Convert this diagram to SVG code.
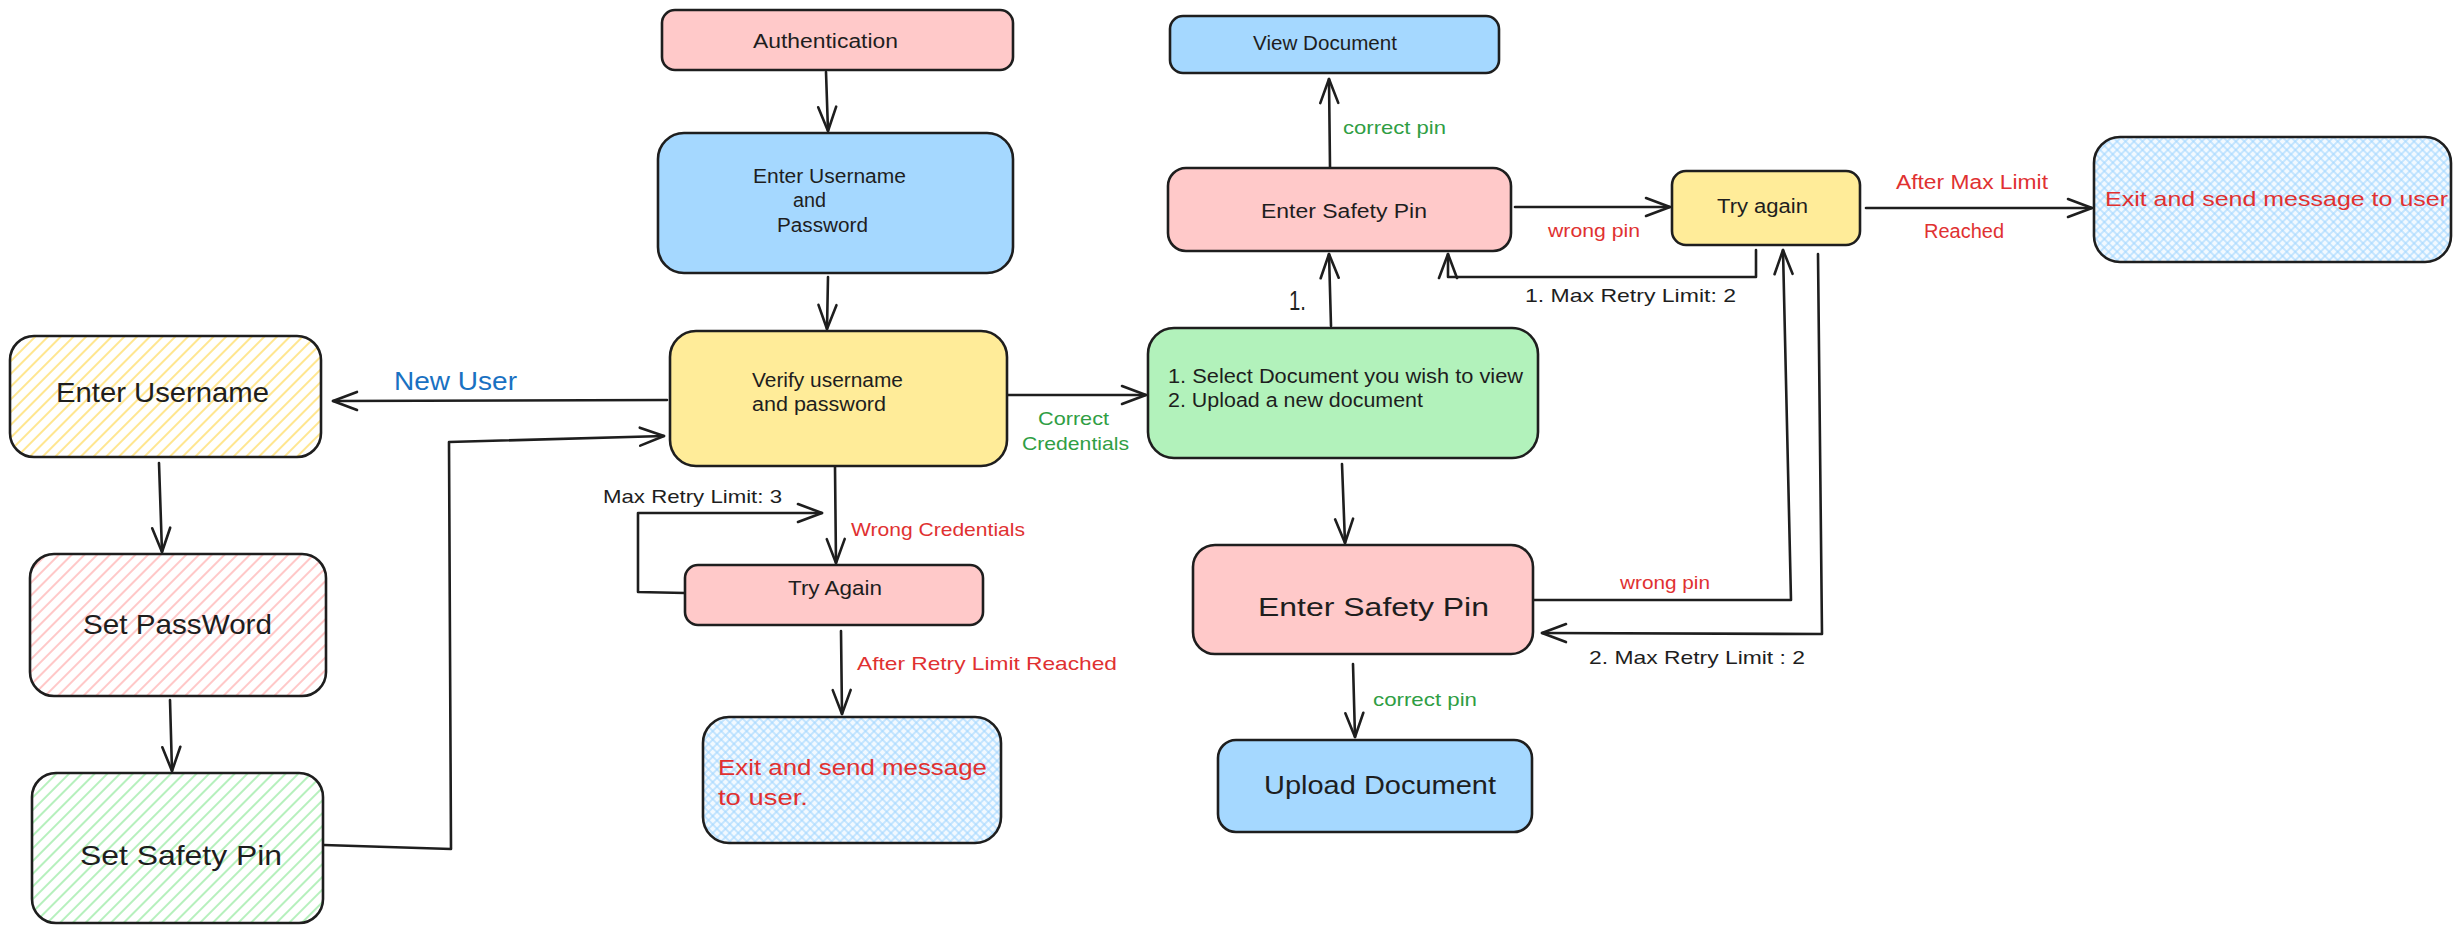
<svg xmlns="http://www.w3.org/2000/svg" width="2463" height="933" viewBox="0 0 2463 933">
  <style>
    .box { stroke: #1e1e1e; stroke-width: 2.6; }
    .pink { fill: #ffc9c9; }
    .blue { fill: #a5d8ff; }
    .yellow { fill: #ffec99; }
    .green { fill: #b2f2bb; }
    .hy { fill: url(#hatchYellow); }
    .hp { fill: url(#hatchPink); }
    .hg { fill: url(#hatchGreen); }
    .xb { fill: url(#crossBlue); }
    .t { font-family: "Liberation Sans", Arial, sans-serif; fill: #1e1e1e; }
    .red { fill: #e03131; }
    .grn { fill: #2f9e44; }
    .nu { fill: #1971c2; }
    .con { fill: none; stroke: #1e1e1e; stroke-width: 2.6; stroke-linecap: round; stroke-linejoin: round; }
    .arr { marker-end: url(#head); }
  </style>
  <defs>
    <marker id="head" markerUnits="userSpaceOnUse" markerWidth="32" markerHeight="24" refX="27" refY="12" orient="auto">
      <path d="M3,3 L27,12 L3,21" fill="none" stroke="#1e1e1e" stroke-width="2.6" stroke-linecap="round" stroke-linejoin="round"/>
    </marker>
    <pattern id="hatchYellow" patternUnits="userSpaceOnUse" width="9" height="9" patternTransform="rotate(45)">
      <rect width="9" height="9" fill="#ffffff"/>
      <line x1="2" y1="0" x2="2" y2="9" stroke="#ffe484" stroke-width="1.8"/>
    </pattern>
    <pattern id="hatchPink" patternUnits="userSpaceOnUse" width="9" height="9" patternTransform="rotate(45)">
      <rect width="9" height="9" fill="#ffffff"/>
      <line x1="2" y1="0" x2="2" y2="9" stroke="#ffc2c2" stroke-width="1.8"/>
    </pattern>
    <pattern id="hatchGreen" patternUnits="userSpaceOnUse" width="9" height="9" patternTransform="rotate(45)">
      <rect width="9" height="9" fill="#ffffff"/>
      <line x1="2" y1="0" x2="2" y2="9" stroke="#aeefb6" stroke-width="1.8"/>
    </pattern>
    <pattern id="crossBlue" patternUnits="userSpaceOnUse" width="6" height="6" patternTransform="rotate(45)">
      <rect width="6" height="6" fill="#f2f9ff"/>
      <line x1="1" y1="0" x2="1" y2="6" stroke="#a5d8ff" stroke-width="1.2"/>
      <line x1="0" y1="1" x2="6" y2="1" stroke="#a5d8ff" stroke-width="1.2"/>
    </pattern>
  </defs>

  <rect width="2463" height="933" fill="#ffffff"/>

  <!-- connectors -->
  <g id="connectors">
    <path class="con arr" d="M826,72 L828,131"/>
    <path class="con arr" d="M828,277 L827,329"/>
    <path class="con arr" d="M1008,395 L1146,395"/>
    <path class="con arr" d="M667,400 L333,401"/>
    <path class="con arr" d="M324,845 L451,849 L449,442 L664,436"/>
    <path class="con arr" d="M159,463 L162,552"/>
    <path class="con arr" d="M170,700 L172,771"/>
    <path class="con arr" d="M835,467 L836,563"/>
    <path class="con arr" d="M685,593 L638,592 L638,513 L822,513"/>
    <path class="con arr" d="M841,631 L842,714"/>
    <path class="con arr" d="M1331,326 L1329,254"/>
    <path class="con arr" d="M1330,167 L1329,79"/>
    <path class="con arr" d="M1515,207 L1670,207"/>
    <path class="con arr" d="M1756,250 L1756,277 L1448,277 L1448,254"/>
    <path class="con arr" d="M1866,208 L2092,208"/>
    <path class="con arr" d="M1342,464 L1345,543"/>
    <path class="con arr" d="M1534,600 L1791,600 L1783,250"/>
    <path class="con arr" d="M1818,254 L1822,634 L1542,633"/>
    <path class="con arr" d="M1353,664 L1355,737"/>
  </g>

  <!-- connector labels -->
  <g id="labels">
    <text class="t nu" x="394" y="390" font-size="25" textLength="123" lengthAdjust="spacingAndGlyphs">New User</text>
    <text class="t grn" x="1038" y="425" font-size="19" textLength="71" lengthAdjust="spacingAndGlyphs">Correct</text>
    <text class="t grn" x="1022" y="450" font-size="19" textLength="107" lengthAdjust="spacingAndGlyphs">Credentials</text>
    <text class="t" x="603" y="503" font-size="19" textLength="179" lengthAdjust="spacingAndGlyphs">Max Retry Limit: 3</text>
    <text class="t red" x="851" y="536" font-size="19" textLength="174" lengthAdjust="spacingAndGlyphs">Wrong Credentials</text>
    <text class="t red" x="857" y="670" font-size="19" textLength="260" lengthAdjust="spacingAndGlyphs">After Retry Limit Reached</text>
    <text class="t grn" x="1343" y="134" font-size="19" textLength="103" lengthAdjust="spacingAndGlyphs">correct pin</text>
    <text class="t" x="1289" y="310" font-size="28" textLength="17" lengthAdjust="spacingAndGlyphs">1.</text>
    <text class="t red" x="1548" y="237" font-size="19" textLength="92" lengthAdjust="spacingAndGlyphs">wrong pin</text>
    <text class="t" x="1525" y="302" font-size="19" textLength="211" lengthAdjust="spacingAndGlyphs">1.  Max Retry Limit: 2</text>
    <text class="t red" x="1896" y="189" font-size="20" textLength="152" lengthAdjust="spacingAndGlyphs">After Max Limit</text>
    <text class="t red" x="1924" y="238" font-size="20" textLength="80" lengthAdjust="spacingAndGlyphs">Reached</text>
    <text class="t red" x="1620" y="589" font-size="19" textLength="90" lengthAdjust="spacingAndGlyphs">wrong pin</text>
    <text class="t" x="1589" y="664" font-size="19" textLength="216" lengthAdjust="spacingAndGlyphs">2. Max Retry Limit : 2</text>
    <text class="t grn" x="1373" y="706" font-size="19" textLength="104" lengthAdjust="spacingAndGlyphs">correct pin</text>
  </g>

  <!-- left column -->
  <g id="enter-username">
    <rect class="box hy" x="10" y="336" width="311" height="121" rx="24"/>
    <text class="t" x="56" y="402" font-size="28" textLength="213" lengthAdjust="spacingAndGlyphs">Enter Username</text>
  </g>
  <g id="set-password">
    <rect class="box hp" x="30" y="554" width="296" height="142" rx="24"/>
    <text class="t" x="83" y="634" font-size="28" textLength="189" lengthAdjust="spacingAndGlyphs">Set PassWord</text>
  </g>
  <g id="set-safety-pin">
    <rect class="box hg" x="32" y="773" width="291" height="150" rx="24"/>
    <text class="t" x="80" y="865" font-size="28" textLength="202" lengthAdjust="spacingAndGlyphs">Set Safety Pin</text>
  </g>

  <!-- centre column -->
  <g id="authentication">
    <rect class="box pink" x="662" y="10" width="351" height="60" rx="13"/>
    <text class="t" x="753" y="48" font-size="20" textLength="145" lengthAdjust="spacingAndGlyphs">Authentication</text>
  </g>
  <g id="enter-credentials">
    <rect class="box blue" x="658" y="133" width="355" height="140" rx="26"/>
    <text class="t" x="753" y="183" font-size="20" textLength="153" lengthAdjust="spacingAndGlyphs">Enter Username</text>
    <text class="t" x="793" y="207" font-size="20" textLength="33" lengthAdjust="spacingAndGlyphs">and</text>
    <text class="t" x="777" y="232" font-size="20" textLength="91" lengthAdjust="spacingAndGlyphs">Password</text>
  </g>
  <g id="verify">
    <rect class="box yellow" x="670" y="331" width="337" height="135" rx="26"/>
    <text class="t" x="752" y="387" font-size="20" textLength="151" lengthAdjust="spacingAndGlyphs">Verify username</text>
    <text class="t" x="752" y="411" font-size="20" textLength="134" lengthAdjust="spacingAndGlyphs">and password</text>
  </g>
  <g id="try-again-login">
    <rect class="box pink" x="685" y="565" width="298" height="60" rx="13"/>
    <text class="t" x="788" y="595" font-size="20" textLength="94" lengthAdjust="spacingAndGlyphs">Try Again</text>
  </g>
  <g id="exit-login">
    <rect class="box xb" x="703" y="717" width="298" height="126" rx="26"/>
    <text class="t red" x="718" y="775" font-size="22" textLength="269" lengthAdjust="spacingAndGlyphs">Exit and send message</text>
    <text class="t red" x="718" y="805" font-size="22" textLength="90" lengthAdjust="spacingAndGlyphs">to user.</text>
  </g>

  <!-- document column -->
  <g id="view-document">
    <rect class="box blue" x="1170" y="16" width="329" height="57" rx="13"/>
    <text class="t" x="1253" y="50" font-size="20" textLength="144" lengthAdjust="spacingAndGlyphs">View Document</text>
  </g>
  <g id="enter-pin-view">
    <rect class="box pink" x="1168" y="168" width="343" height="83" rx="18"/>
    <text class="t" x="1261" y="218" font-size="20" textLength="166" lengthAdjust="spacingAndGlyphs">Enter Safety Pin</text>
  </g>
  <g id="select-action">
    <rect class="box green" x="1148" y="328" width="390" height="130" rx="26"/>
    <text class="t" x="1168" y="383" font-size="20" textLength="355" lengthAdjust="spacingAndGlyphs">1. Select Document you wish to view</text>
    <text class="t" x="1168" y="407" font-size="20" textLength="255" lengthAdjust="spacingAndGlyphs">2. Upload a new document</text>
  </g>
  <g id="enter-pin-upload">
    <rect class="box pink" x="1193" y="545" width="340" height="109" rx="22"/>
    <text class="t" x="1258" y="616" font-size="26" textLength="231" lengthAdjust="spacingAndGlyphs">Enter Safety Pin</text>
  </g>
  <g id="upload-document">
    <rect class="box blue" x="1218" y="740" width="314" height="92" rx="18"/>
    <text class="t" x="1264" y="794" font-size="26" textLength="232" lengthAdjust="spacingAndGlyphs">Upload Document</text>
  </g>

  <!-- pin retry -->
  <g id="try-again-pin">
    <rect class="box yellow" x="1672" y="171" width="188" height="74" rx="14"/>
    <text class="t" x="1717" y="213" font-size="20" textLength="91" lengthAdjust="spacingAndGlyphs">Try again</text>
  </g>
  <g id="exit-pin">
    <rect class="box xb" x="2094" y="137" width="357" height="125" rx="26"/>
    <text class="t red" x="2105" y="206" font-size="21" textLength="343" lengthAdjust="spacingAndGlyphs">Exit and send message to user</text>
  </g>
</svg>
